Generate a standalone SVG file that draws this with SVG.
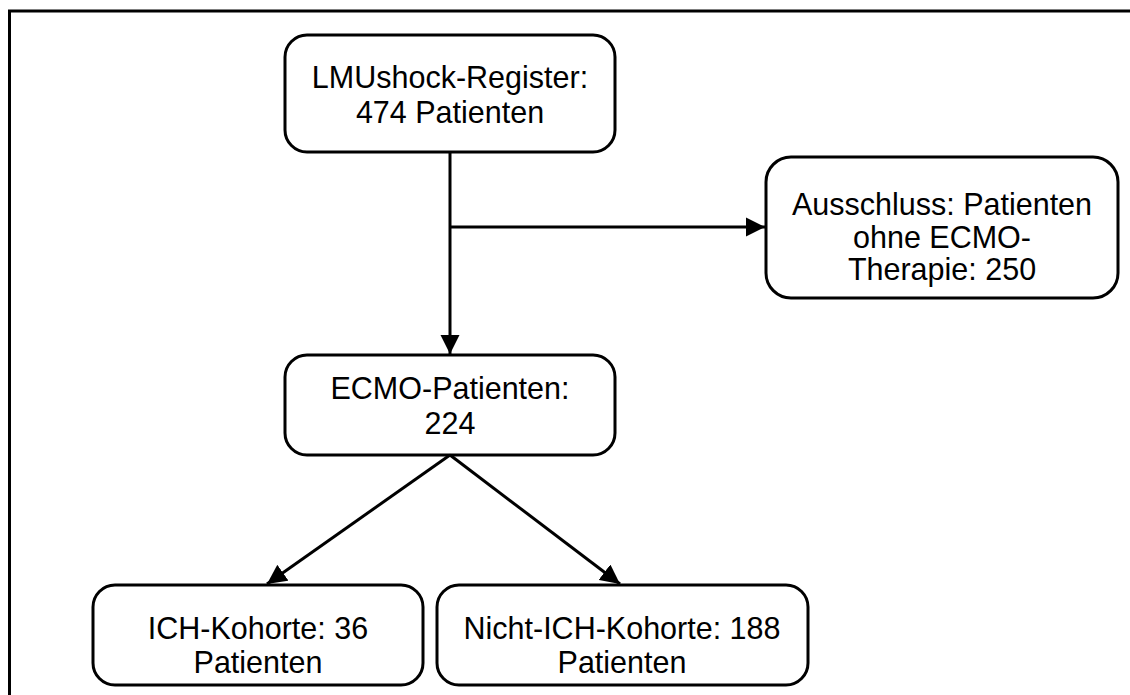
<svg xmlns="http://www.w3.org/2000/svg" width="1130" height="695" viewBox="0 0 1130 695">
<defs>
<style>
.box{fill:#fff;stroke:#000;stroke-width:3}
.t{font-family:"Liberation Sans",Arial,sans-serif;font-size:30.5px;fill:#000;text-anchor:middle}
.c{stroke:#000;stroke-width:3;fill:none}
</style>
<marker id="ah" viewBox="0 0 10 10" refX="10" refY="5" markerWidth="6.5" markerHeight="6.5" markerUnits="strokeWidth" orient="auto">
<path d="M0,0 L10,5 L0,10 z" fill="#000"/>
</marker>
</defs>
<rect x="0" y="0" width="1130" height="695" fill="#fff"/>
<rect x="9.5" y="11" width="1140" height="720" fill="none" stroke="#000" stroke-width="3"/>
<g id="n1">
<rect class="box" x="285" y="35" width="330" height="117" rx="22"/>
<text class="t" x="450" y="88">LMUshock-Register:</text>
<text class="t" x="450" y="123">474 Patienten</text>
</g>
<g id="n2">
<rect class="box" x="766" y="157" width="352" height="141" rx="25"/>
<text class="t" x="942" y="215">Ausschluss: Patienten</text>
<text class="t" x="942" y="248">ohne ECMO-</text>
<text class="t" x="942" y="280">Therapie: 250</text>
</g>
<g id="n3">
<rect class="box" x="285" y="355" width="330" height="100" rx="22"/>
<text class="t" x="450" y="399">ECMO-Patienten:</text>
<text class="t" x="450" y="434">224</text>
</g>
<g id="n4">
<rect class="box" x="93" y="585" width="330" height="100" rx="22"/>
<text class="t" x="258" y="639">ICH-Kohorte: 36</text>
<text class="t" x="258" y="673">Patienten</text>
</g>
<g id="n5">
<rect class="box" x="437" y="585" width="371" height="100" rx="22"/>
<text class="t" x="622" y="639">Nicht-ICH-Kohorte: 188</text>
<text class="t" x="622" y="673">Patienten</text>
</g>
<g id="connectors">
<line class="c" x1="450" y1="152" x2="450" y2="354" marker-end="url(#ah)"/>
<line class="c" x1="450" y1="227" x2="765" y2="227" marker-end="url(#ah)"/>
<line class="c" x1="450" y1="455" x2="267" y2="584" marker-end="url(#ah)"/>
<line class="c" x1="450" y1="455" x2="620" y2="584" marker-end="url(#ah)"/>
</g>
</svg>
